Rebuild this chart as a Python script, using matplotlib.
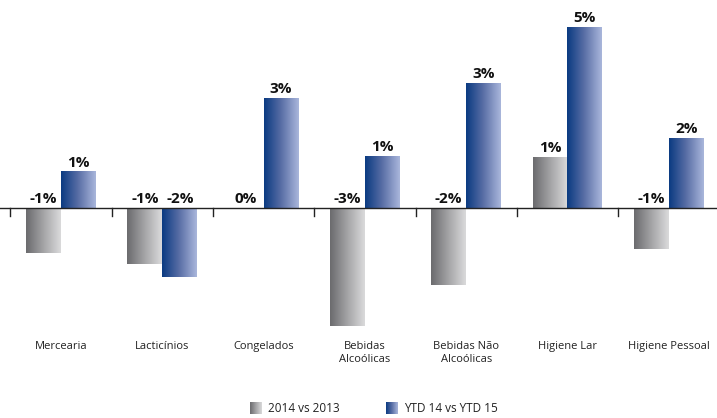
import matplotlib
matplotlib.use("Agg")
import matplotlib.pyplot as plt
import numpy as np
from matplotlib.colors import LinearSegmentedColormap

categories = ["Mercearia", "Lacticínios", "Congelados", "Bebidas\nAlcoólicas",
              "Bebidas Não\nAlcoólicas", "Higiene Lar", "Higiene Pessoal"]
series_names = ["2014 vs 2013", "YTD 14 vs YTD 15"]
vals_2014 = [-1.24, -1.55, 0.0, -3.27, -2.13, 1.39, -1.11]
vals_ytd = [1.00, -1.90, 3.03, 1.44, 3.44, 5.00, 1.92]
labels_2014 = ["-1%", "-1%", "0%", "-3%", "-2%", "1%", "-1%"]
labels_ytd = ["1%", "-2%", "3%", "1%", "3%", "5%", "2%"]

plt.rcParams['font.family'] = ['Open Sans', 'DejaVu Sans']

W, H = 717, 418
fig = plt.figure(figsize=(W / 100, H / 100), dpi=100)
ax = fig.add_axes([0, 0, 1, 1])
ax.set_xlim(-0.602, 6.476)
ax.set_ylim(-5.806, 5.778)
ax.axis('off')

gray_cmap = LinearSegmentedColormap.from_list("g", ["#6b6b6e", "#a4a4a6", "#dadadb"])
blue_cmap = LinearSegmentedColormap.from_list("b", ["#0b3b82", "#5a6fa6", "#a9b6db"])
grad = np.linspace(0, 1, 64).reshape(1, -1)

x = np.arange(len(categories))
bw = 0.345
b1 = ax.bar(x - bw / 2, vals_2014, bw, color='none', edgecolor='none')
b2 = ax.bar(x + bw / 2, vals_ytd, bw, color='none', edgecolor='none')

for bars, cmap in ((b1, gray_cmap), (b2, blue_cmap)):
    for p in bars:
        x0, y0, w, h = p.get_x(), p.get_y(), p.get_width(), p.get_height()
        if h == 0:
            continue
        ax.imshow(grad, cmap=cmap, extent=[x0, x0 + w, min(y0, y0 + h), max(y0, y0 + h)],
                  aspect='auto', zorder=2, interpolation='bicubic')

# axis line and ticks
ax.plot([-0.6, 6.476], [0, 0], color='#222222', lw=1.0, zorder=3)
for b in np.arange(-0.5, len(categories) + 0.5, 1.0):
    ax.plot([b, b], [0, -0.22], color='#222222', lw=1.0, zorder=3)

# value labels
for bars, labs in ((b1, labels_2014), (b2, labels_ytd)):
    for p, lab in zip(bars, labs):
        h = p.get_height()
        top = max(h, 0)
        ax.text(p.get_x() + p.get_width() / 2, top + 0.08, lab, ha='center', va='bottom',
                fontsize=11, fontweight='bold', color='#111111', zorder=4)

# category labels
for i, c in enumerate(categories):
    ax.text(i, -3.66, c, ha='center', va='top', fontsize=8, color='#222222',
            linespacing=1.3)

# legend
leg_items = [(series_names[0], gray_cmap, 250), (series_names[1], blue_cmap, 386)]
for name, cmap, px in leg_items:
    lax = fig.add_axes([px / W, 1 - 414 / H, 12 / W, 12 / H])
    lax.imshow(grad, cmap=cmap, aspect='auto', interpolation='bicubic')
    lax.axis('off')
    fig.text((px + 18) / W, 1 - 408 / H, name, ha='left', va='center', fontsize=8.5,
             color='#222222')

fig.savefig("out.png", dpi=100)
